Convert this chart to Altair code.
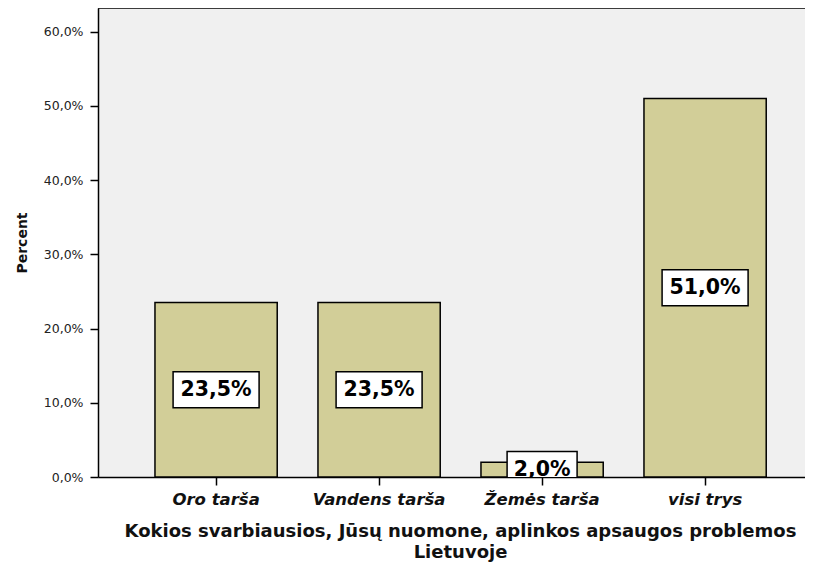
import altair as alt
import pandas as pd

categories = ["Oro tarša", "Vandens tarša", "Žemės tarša", "visi trys"]
percents = [23.5, 23.5, 2.0, 51.0]
y_ticks = [0, 10, 20, 30, 40, 50, 60]

df = pd.DataFrame({"cat": categories, "pct": percents})

W, H = 707, 469
FONT = "DejaVu Sans"

xscale = alt.Scale(paddingInner=0.25, paddingOuter=0.2937, align=0.595)
yscale = alt.Scale(domain=[0, 63.2], nice=False, zero=True)

x_axis = alt.Axis(
    title=["Kokios svarbiausios, Jūsų nuomone, aplinkos apsaugos problemos", "Lietuvoje"],
    labelAngle=0, labelFont=FONT, labelFontSize=16.5, labelFontWeight="bold",
    labelFontStyle="italic", labelColor="#111", labelPadding=6,
    tickSize=8, tickColor="black", tickWidth=1.5,
    domainColor="black", domainWidth=1.5,
    titleFont=FONT, titleFontSize=18, titleFontWeight="bold", titleColor="#111",
    titleLineHeight=20.5, titlePadding=15, titleX=362, titleAlign="center",
    grid=False,
)
y_axis = alt.Axis(
    values=y_ticks,
    labelExpr="replace(format(datum.value, '.1f'), '.', ',') + '%'",
    title="Percent", titleFont=FONT, titleFontSize=14, titleFontWeight="bold",
    titleColor="#111", titlePadding=14,
    labelFont=FONT, labelFontSize=12.5, labelColor="#222", labelPadding=7,
    tickSize=8, tickColor="black", tickWidth=1.5,
    domainColor="black", domainWidth=1.5, grid=False,
)

base = alt.Chart(df).transform_calculate(
    mid="datum.pct / 2",
    label="replace(format(datum.pct, '.1f'), '.', ',') + '%'",
)

xenc = alt.X("cat:N", sort=categories, scale=xscale, axis=x_axis)

bars = base.mark_bar(color="#D2CE98", stroke="black", strokeWidth=1.5).encode(
    x=xenc,
    y=alt.Y("pct:Q", scale=yscale, axis=y_axis),
)

ymid = alt.Y("mid:Q", scale=yscale, axis=y_axis)

boxes_wide = base.transform_filter("datum.pct >= 10").mark_bar(
    width=86, fill="white", stroke="black", strokeWidth=1.5,
    yOffset=-18, y2Offset=18, clip=True,
).encode(x=xenc, y=ymid, y2="mid:Q")

boxes_narrow = base.transform_filter("datum.pct < 10").mark_bar(
    width=70, fill="white", stroke="black", strokeWidth=1.5,
    yOffset=-18, y2Offset=18, clip=True,
).encode(x=xenc, y=ymid, y2="mid:Q")

texts = base.mark_text(
    font=FONT, fontSize=20.5, fontWeight="bold", baseline="middle",
    color="black", clip=True,
).encode(x=xenc, y=ymid, text="label:N")

top_rule = alt.Chart(pd.DataFrame({"a": [0]})).mark_rule(
    color="black", strokeWidth=1.5
).encode(y=alt.value(0), x=alt.value(0), x2=alt.value(W))

chart = alt.layer(bars, boxes_wide, boxes_narrow, texts, top_rule).properties(
    width=W, height=H,
    autosize=alt.AutoSizeParams(type="none"),
    padding={"left": 90, "top": 0, "right": 0, "bottom": 86},
    background="white",
).configure_view(fill="#F0F0F0", stroke=None)

chart.save("out.html", embed_options={"renderer": "svg", "actions": False})
